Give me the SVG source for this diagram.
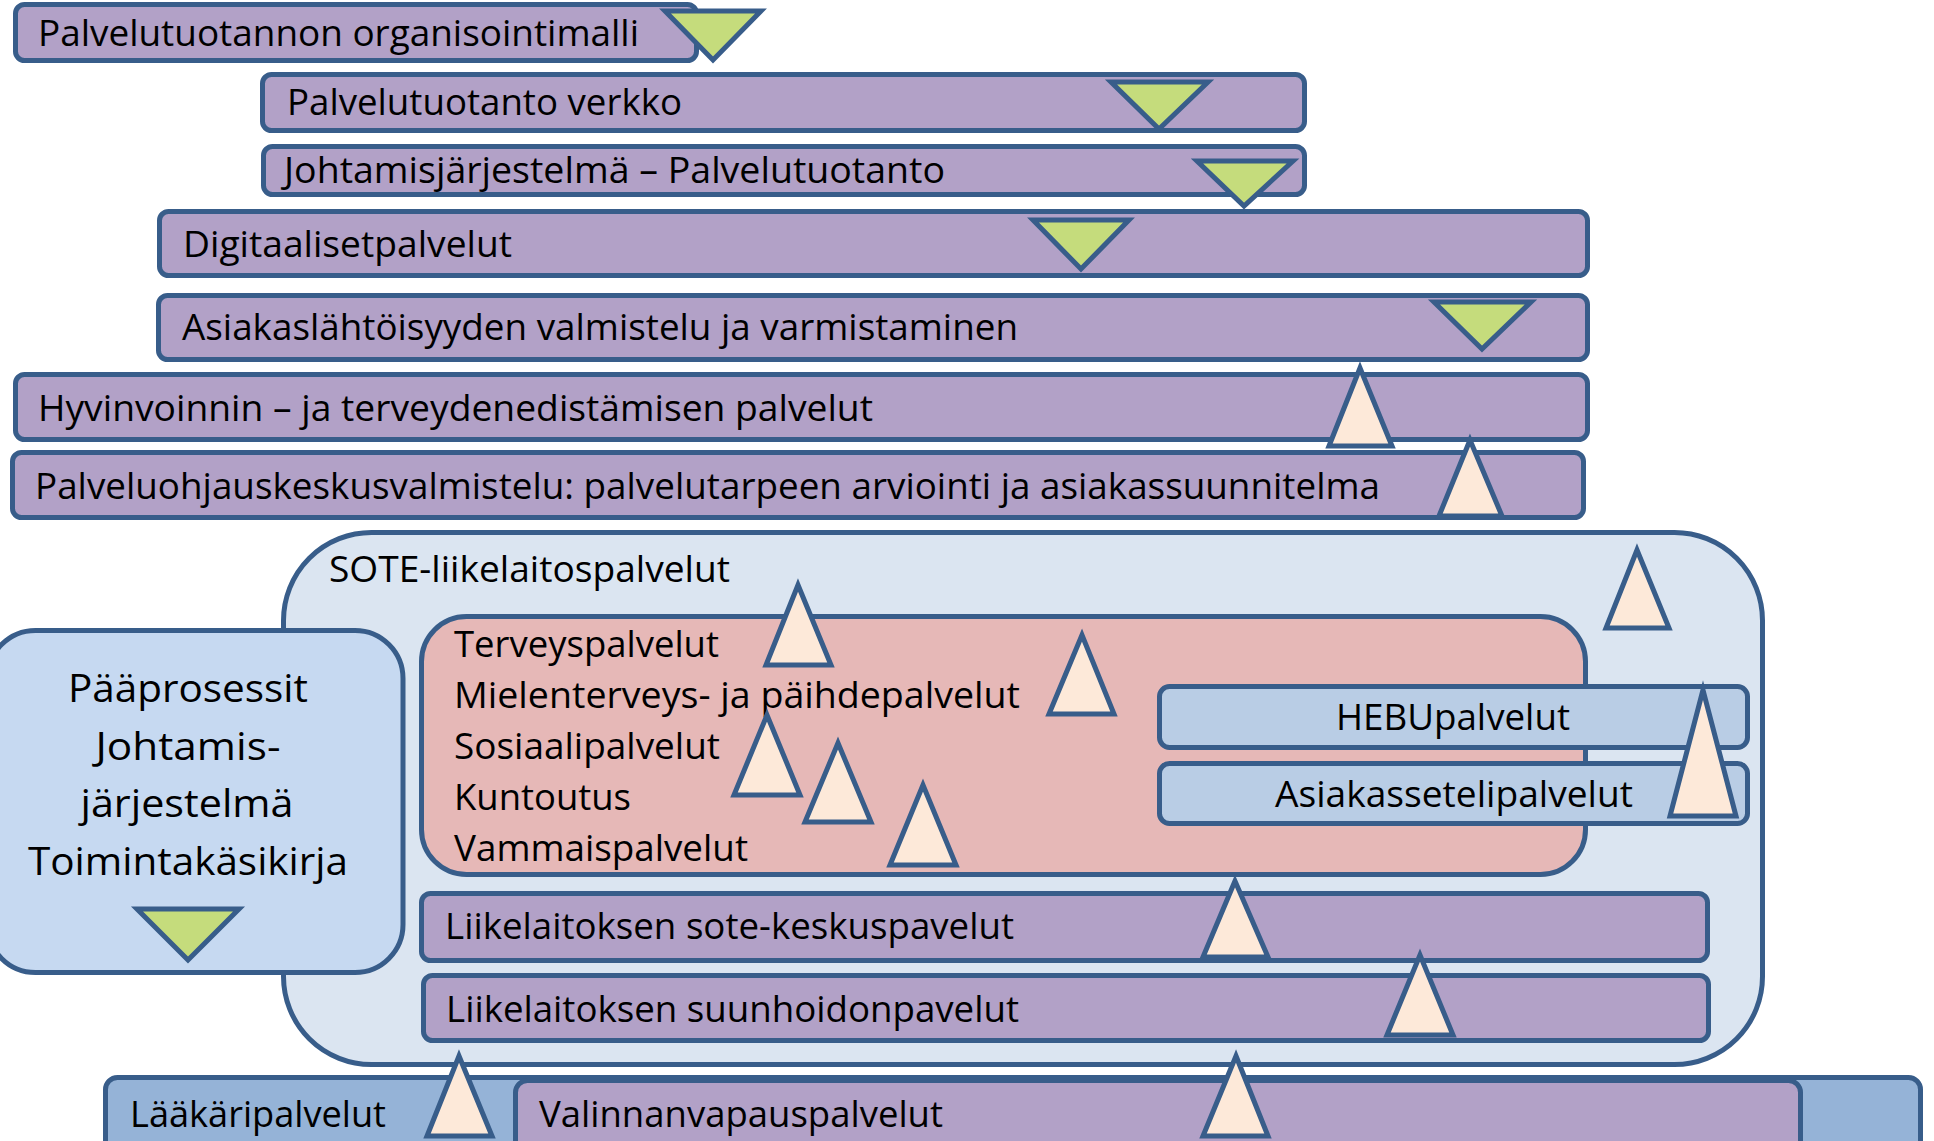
<svg xmlns="http://www.w3.org/2000/svg" width="1934" height="1141" viewBox="0 0 1934 1141">
<style>
.box{stroke:#385d8a;stroke-width:5}
.pur{fill:#b2a1c7}
.sote{fill:#dbe5f1}
.pink{fill:#e6b8b7}
.lb{fill:#b9cde5}
.pp{fill:#c6d9f1}
.mb{fill:#95b3d7}
.dn{fill:#c5dc7c;stroke:#385d8a;stroke-width:5;stroke-linejoin:miter}
.up{fill:#fde9d9;stroke:#385d8a;stroke-width:5;stroke-linejoin:miter}
text{font-family:"Open Sans","Liberation Sans",sans-serif;font-size:36px;fill:#000}
.big{font-size:38px}
</style>
<rect width="1934" height="1141" fill="#ffffff"/>

<g id="organisointimalli">
<rect class="box pur" x="15.5" y="4.5" width="681" height="56" rx="9"/>
<text x="38" y="46" textLength="601" lengthAdjust="spacingAndGlyphs">Palvelutuotannon organisointimalli</text>
</g>
<g id="verkko">
<rect class="box pur" x="262.5" y="74.5" width="1042" height="56" rx="9"/>
<text x="287" y="115" textLength="395" lengthAdjust="spacingAndGlyphs">Palvelutuotanto verkko</text>
</g>
<g id="johtamisjarjestelma">
<rect class="box pur" x="263.5" y="146.5" width="1041" height="48" rx="9"/>
<text x="284" y="183" textLength="661" lengthAdjust="spacingAndGlyphs">Johtamisjärjestelmä – Palvelutuotanto</text>
</g>
<g id="digitaaliset">
<rect class="box pur" x="159.5" y="211.5" width="1428" height="64" rx="9"/>
<text x="183" y="257" textLength="329" lengthAdjust="spacingAndGlyphs">Digitaalisetpalvelut</text>
</g>
<g id="asiakaslahtoisyys">
<rect class="box pur" x="158.5" y="295.5" width="1429" height="64" rx="9"/>
<text x="182" y="340" textLength="836" lengthAdjust="spacingAndGlyphs">Asiakaslähtöisyyden valmistelu ja varmistaminen</text>
</g>
<g id="hyvinvointi">
<rect class="box pur" x="15.5" y="374.5" width="1572" height="65" rx="9"/>
<text x="38" y="421" textLength="835" lengthAdjust="spacingAndGlyphs">Hyvinvoinnin – ja terveydenedistämisen palvelut</text>
</g>
<g id="palveluohjaus">
<rect class="box pur" x="12.5" y="452.5" width="1571" height="65" rx="9"/>
<text x="35" y="499" textLength="1345" lengthAdjust="spacingAndGlyphs">Palveluohjauskeskusvalmistelu: palvelutarpeen arviointi ja asiakassuunnitelma</text>
</g>

<g id="sote-liikelaitos">
<rect class="box sote" x="283.5" y="532.5" width="1479" height="532" rx="88"/>
<text x="329" y="582" textLength="401" lengthAdjust="spacingAndGlyphs">SOTE-liikelaitospalvelut</text>
</g>
<g id="palvelualueet">
<rect class="box pink" x="421.5" y="616.5" width="1164" height="258" rx="45"/>
<text x="454" y="657" textLength="265" lengthAdjust="spacingAndGlyphs">Terveyspalvelut</text>
<text x="454" y="708" textLength="566" lengthAdjust="spacingAndGlyphs">Mielenterveys- ja päihdepalvelut</text>
<text x="454" y="759" textLength="266" lengthAdjust="spacingAndGlyphs">Sosiaalipalvelut</text>
<text x="454" y="810" textLength="177" lengthAdjust="spacingAndGlyphs">Kuntoutus</text>
<text x="454" y="861" textLength="294" lengthAdjust="spacingAndGlyphs">Vammaispalvelut</text>
</g>
<g id="hebu">
<rect class="box lb" x="1159.5" y="686.5" width="588" height="61" rx="10"/>
<text x="1453" y="730" text-anchor="middle" textLength="234" lengthAdjust="spacingAndGlyphs">HEBUpalvelut</text>
</g>
<g id="asiakasseteli">
<rect class="box lb" x="1159.5" y="763.5" width="588" height="60" rx="10"/>
<text x="1454" y="807" text-anchor="middle" textLength="358" lengthAdjust="spacingAndGlyphs">Asiakassetelipalvelut</text>
</g>
<g id="sote-keskus">
<rect class="box pur" x="421.5" y="893.5" width="1286" height="67" rx="9"/>
<text x="445" y="939" textLength="569" lengthAdjust="spacingAndGlyphs">Liikelaitoksen sote-keskuspavelut</text>
</g>
<g id="suunhoito">
<rect class="box pur" x="423.5" y="975.5" width="1285" height="65" rx="9"/>
<text x="446" y="1022" textLength="573" lengthAdjust="spacingAndGlyphs">Liikelaitoksen suunhoidonpavelut</text>
</g>
<g id="paaprosessit">
<rect class="box pp" x="-12.5" y="630.5" width="415.5" height="342" rx="48"/>
<text class="big" x="188" y="702" text-anchor="middle" textLength="240" lengthAdjust="spacingAndGlyphs">Pääprosessit</text>
<text class="big" x="188" y="760" text-anchor="middle" textLength="185" lengthAdjust="spacingAndGlyphs">Johtamis-</text>
<text class="big" x="187" y="817" text-anchor="middle" textLength="213" lengthAdjust="spacingAndGlyphs">järjestelmä</text>
<text class="big" x="188" y="875" text-anchor="middle" textLength="320" lengthAdjust="spacingAndGlyphs">Toimintakäsikirja</text>
</g>
<g id="laakaripalvelut">
<rect class="box mb" x="105.5" y="1077.5" width="1815" height="100" rx="12"/>
<text x="130" y="1127" textLength="256" lengthAdjust="spacingAndGlyphs">Lääkäripalvelut</text>
</g>
<g id="valinnanvapaus">
<rect class="box pur" x="515.5" y="1080.5" width="1285" height="100" rx="12"/>
<text x="539" y="1127" textLength="404" lengthAdjust="spacingAndGlyphs">Valinnanvapauspalvelut</text>
</g>

<g id="connectors">
<polygon class="dn" points="665,11 761,11 713,60"/>
<polygon class="dn" points="1111,82 1208,82 1159,129"/>
<polygon class="dn" points="1197,161 1293,161 1244,206"/>
<polygon class="dn" points="1033,220 1129,220 1081,269"/>
<polygon class="dn" points="1434,302 1531,302 1482,349"/>
<polygon class="dn" points="137,909 239,909 188,960"/>
<polygon class="up" points="1360,368 1329,446 1392,446"/>
<polygon class="up" points="1470,440 1439,516 1502,516"/>
<polygon class="up" points="1637,550 1606,628 1669,628"/>
<polygon class="up" points="798,585 766,665 831,665"/>
<polygon class="up" points="1082,635 1049,714 1114,714"/>
<polygon class="up" points="767,715 734,795 800,795"/>
<polygon class="up" points="838,743 805,822 871,822"/>
<polygon class="up" points="923,785 890,865 956,865"/>
<polygon class="up" points="1703,690 1670,816 1736,816"/>
<polygon class="up" points="1235,881 1203,957 1268,957"/>
<polygon class="up" points="1420,955 1387,1035 1453,1035"/>
<polygon class="up" points="459,1056 427,1136 492,1136"/>
<polygon class="up" points="1236,1056 1203,1136 1268,1136"/>
</g>
</svg>
